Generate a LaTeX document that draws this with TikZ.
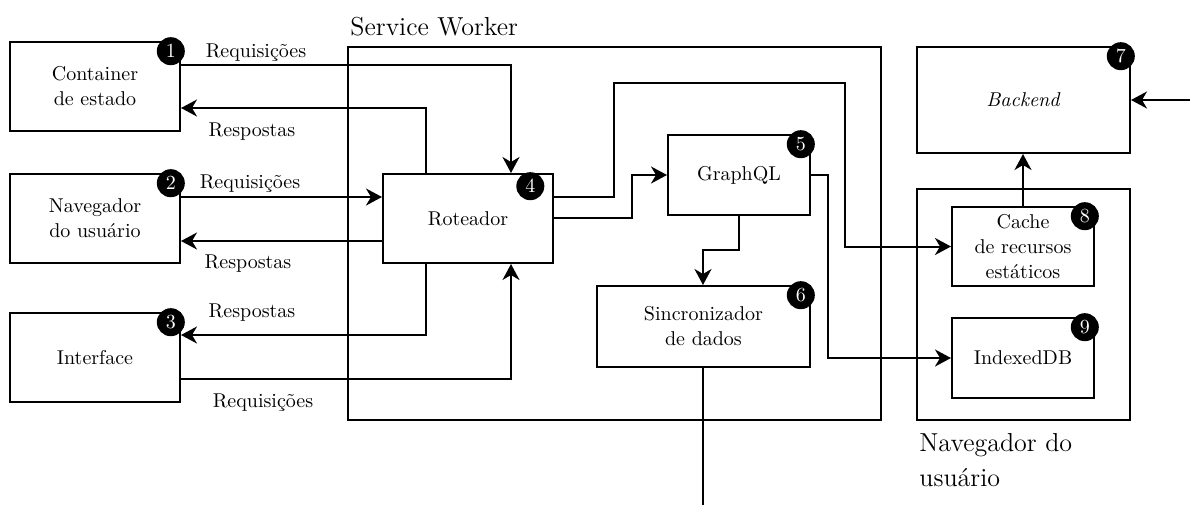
\documentclass[tikz,border=0pt]{standalone}
\usetikzlibrary{arrows.meta,calc}
\begin{document}
\begin{tikzpicture}[x=0.5pt,y=-0.5pt,
  box/.style={draw,line width=1pt,inner sep=0pt,align=center,font=\fontsize{10}{12.5}\selectfont},
  frame/.style={draw,line width=1pt,inner sep=0pt},
  badge/.style={circle,fill=black,text=white,inner sep=0pt,minimum size=14pt,font=\fontsize{10}{12}\selectfont},
  arr/.style={line width=1pt,-{Stealth[length=8pt,width=8.5pt,inset=2.5pt]}},
  ln/.style={line width=1pt},
  lbl/.style={inner sep=0pt,font=\fontsize{10}{12}\selectfont}
]
\useasboundingbox (0,0) rectangle (1190,505);

% frames
\node[frame,minimum width=266.5pt,minimum height=186.5pt] (sw) at (614,233.5) {};
\node[frame,minimum width=106.5pt,minimum height=115.5pt] (navframe) at (1023.5,304.5) {};
\node[anchor=west,inner sep=0pt,font=\fontsize{13}{15}\selectfont] (swl) at (350,27) {Service Worker};
\node[anchor=north west,align=left,inner sep=0pt,font=\fontsize{13}{17.3}\selectfont] (navl) at (919,433) {Navegador do\\usuário};

% boxes
\node[box,minimum width=85pt,minimum height=44.5pt] (cont) at (95,86.5) {Container\\de estado};
\node[box,minimum width=85pt,minimum height=44.5pt] (nav) at (95,218.5) {Navegador\\do usuário};
\node[box,minimum width=85pt,minimum height=44.5pt] (intf) at (95,357.5) {Interface};
\node[box,minimum width=85pt,minimum height=44.5pt] (rot) at (468,218.5) {Roteador};
\node[box,minimum width=71pt,minimum height=40pt] (gql) at (739,175) {GraphQL};
\node[box,minimum width=106.5pt,minimum height=40.5pt] (sync) at (703.5,326.5) {Sincronizador\\de dados};
\node[box,minimum width=106.5pt,minimum height=53pt] (back) at (1023.5,100) {\textit{Backend}};
\node[box,minimum width=71pt,minimum height=39.5pt] (cache) at (1023,246.5) {Cache\\de recursos\\estáticos};
\node[box,minimum width=71pt,minimum height=40pt] (idb) at (1023,358) {IndexedDB};

% badges
\node[badge,anchor=north east] (b1) at (cont.north east) {1};
\node[badge,anchor=north east] (b2) at (nav.north east) {2};
\node[badge,anchor=north east] (b3) at (intf.north east) {3};
\node[badge,anchor=north east] (b4) at ($(rot.north east)+(-13.5,3)$) {4};
\node[badge,anchor=north east] (b5) at (gql.north east) {5};
\node[badge,anchor=north east] (b6) at (sync.north east) {6};
\node[badge,anchor=north east] (b7) at (back.north east) {7};
\node[badge,anchor=north east] (b8) at (cache.north east) {8};
\node[badge,anchor=north east] (b9) at (idb.north east) {9};

% routing coordinates
\coordinate (c1) at (511,65);
\coordinate (c2) at (426,108);
\coordinate (c3) at (0,197);
\coordinate (c4) at (0,241);
\coordinate (c5) at (426,335);
\coordinate (c6) at (511,379);
\coordinate (c7a) at (614,197);
\coordinate (c7b) at (614,83);
\coordinate (c7c) at (845,83);
\coordinate (c8) at (632,218);
\coordinate (c9) at (828,175);
\coordinate (c10) at (703,250);
\coordinate (out) at (703,505);
\coordinate (ext) at (1190,100);

% connectors
\draw[arr] (cont.east |- c1) -- (c1) -- (c1 |- rot.north);
\draw[arr] (c2 |- rot.north) -- (c2) -- (cont.east |- c2);
\draw[arr] (nav.east |- c3) -- (rot.west |- c3);
\draw[arr] (rot.west |- c4) -- (nav.east |- c4);
\draw[arr] (c5 |- rot.south) -- (c5) -- (intf.east |- c5);
\draw[arr] (intf.east |- c6) -- (c6) -- (c6 |- rot.south);
\draw[arr] (rot.east |- c7a) -- (c7a) -- (c7b) -- (c7c) -- (c7c |- cache.west) -- (cache.west);
\draw[arr] (rot.east |- c8) -- (c8) -- (c8 |- gql.west) -- (gql.west);
\draw[arr] (gql.east) -- (c9) -- (c9 |- idb.west) -- (idb.west);
\draw[arr] (gql.south) -- (gql.south |- c10) -- (c10) -- (c10 |- sync.north);
\draw[ln] (c10 |- sync.south) -- (out);
\draw[arr] (cache.north) -- (cache.north |- back.south);
\draw[arr] (ext) -- (back.east);

% labels
\node[lbl] (l1) at (256,53) {Requisições};
\node[lbl] (l2) at (252,132) {Respostas};
\node[lbl] (l3) at (250,184) {Requisições};
\node[lbl] (l4) at (248,264) {Respostas};
\node[lbl] (l5) at (252,313) {Respostas};
\node[lbl] (l6) at (263,403) {Requisições};
\end{tikzpicture}
\end{document}
